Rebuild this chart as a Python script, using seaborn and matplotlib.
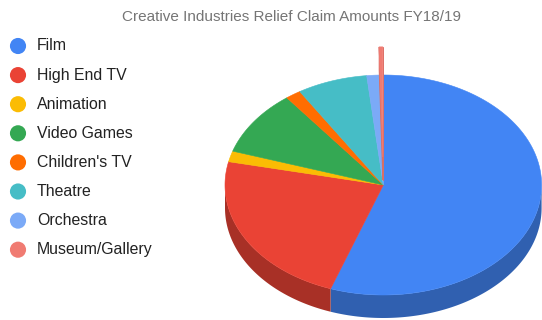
import numpy as np
import matplotlib
matplotlib.use("Agg")
import matplotlib.pyplot as plt
from matplotlib.patches import Polygon
import seaborn as sns

# Creative Industries tax relief claims, FY18/19 (£m)
categories = ["Film", "High End TV", "Animation", "Video Games",
              "Children's TV", "Theatre", "Orchestra", "Museum/Gallery"]
amounts = [595, 247, 17, 103, 17, 77, 14, 4]
colors = ["#4285f4", "#ea4335", "#fbbc04", "#34a853",
          "#ff6d01", "#46bdc6", "#7baaf7", "#f07b72"]
exploded = ["Museum/Gallery"]
title = "Creative Industries Relief Claim Amounts FY18/19"

sns.set_theme(style="white")
plt.rcParams["font.family"] = ["Liberation Sans", "DejaVu Sans"]
palette = sns.color_palette(colors)

W, H = 542, 320
fig = plt.figure(figsize=(W / 100, H / 100), dpi=100)
ax = fig.add_axes([0, 0, 1, 1])
ax.set_xlim(0, W)
ax.set_ylim(H, 0)
ax.axis("off")

# tilted pie geometry (pixel units)
CX, CY = 383.3, 185.0
RX, RY = 158.3, 110.0
DEPTH = 23.0
OFFSET = 0.255  # explode distance as a fraction of the radius


def darker(c, f=0.72):
    return tuple(np.clip(np.array(c) * f, 0, 1))


def rim(theta_deg, dx=0.0, dy=0.0, drop=0.0):
    t = np.radians(theta_deg)
    return np.column_stack([CX + dx + RX * np.sin(t),
                            CY + dy - RY * np.cos(t) + drop])


vals = np.array(amounts, dtype=float)
ends = np.cumsum(vals) / vals.sum() * 360.0
starts = np.concatenate([[0.0], ends[:-1]])

slices = []
for name, a, b, col in zip(categories, starts, ends, palette):
    mid = np.radians((a + b) / 2)
    if name in exploded:
        dx, dy = OFFSET * RX * np.sin(mid), -OFFSET * RY * np.cos(mid)
    else:
        dx, dy = 0.0, 0.0
    slices.append((name, a, b, col, dx, dy))


def draw_slice(a, b, col, dx, dy, z):
    # front curved wall (only the part facing the viewer)
    lo, hi = max(a, 90.0), min(b, 270.0)
    if hi > lo:
        th = np.linspace(lo, hi, 120)
        top = rim(th, dx, dy)
        bot = rim(th[::-1], dx, dy, DEPTH)
        ax.add_patch(Polygon(np.vstack([top, bot]), closed=True,
                             facecolor=darker(col), edgecolor="none",
                             zorder=z))
    # radial walls (visible for an exploded slice)
    if dx or dy:
        tip = np.array([[CX + dx, CY + dy]])
        for ang in (a, b):
            edge = rim([ang], dx, dy)
            quad = np.vstack([tip, edge, edge + [0, DEPTH], tip + [0, DEPTH]])
            ax.add_patch(Polygon(quad, closed=True, facecolor=darker(col, 0.9),
                                 edgecolor=darker(col, 0.9), linewidth=0.6,
                                 zorder=z))
    # top face
    th = np.linspace(a, b, max(4, int((b - a) * 2)))
    face = np.vstack([[CX + dx, CY + dy], rim(th, dx, dy)])
    ax.add_patch(Polygon(face, closed=True, facecolor=col, edgecolor=col,
                         linewidth=0.4 if not (dx or dy) else 0.6,
                         zorder=z + 1))


for name, a, b, col, dx, dy in slices:
    if name not in exploded:
        draw_slice(a, b, col, dx, dy, 2)
for name, a, b, col, dx, dy in slices:
    if name in exploded:
        draw_slice(a, b, col, dx, dy, 5)

# title
ax.text(291, 17, title, ha="center", va="center", fontsize=11.0,
        color="#757575")

# legend
for i, (name, col) in enumerate(zip(categories, palette)):
    y = 46 + i * 29.1
    ax.scatter([18], [y], s=135, color=col, edgecolor="none", zorder=6)
    ax.text(37, y, name, ha="left", va="center", fontsize=11.4,
            color="#222222")

fig.savefig("out.png", dpi=100, facecolor="white")
